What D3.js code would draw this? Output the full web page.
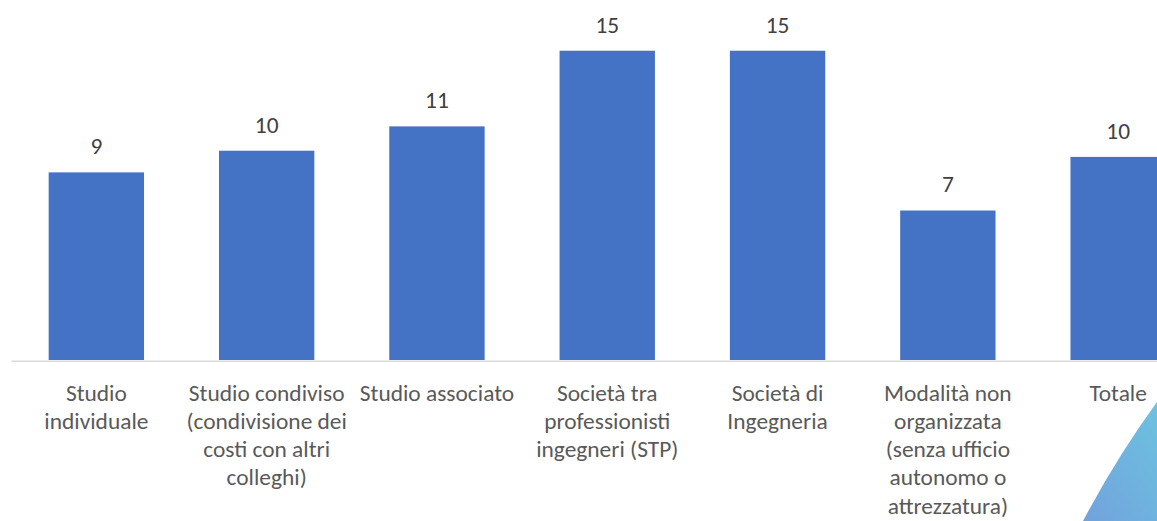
<!DOCTYPE html>
<html>
<head>
<meta charset="utf-8">
<script src="https://cdn.jsdelivr.net/npm/d3@7"></script>
<style>
  html, body { margin: 0; padding: 0; background: #ffffff; overflow: hidden; }
  svg { display: block; }
</style>
</head>
<body>
<svg id="chart" width="1157" height="521"></svg>
<script>
// ---- data ----
const categories = [
  "Studio individuale",
  "Studio condiviso (condivisione dei costi con altri colleghi)",
  "Studio associato",
  "Società tra professionisti ingegneri (STP)",
  "Società di Ingegneria",
  "Modalità non organizzata (senza ufficio autonomo o attrezzatura)",
  "Totale"
];
const categoryLines = [
  ["Studio", "individuale"],
  ["Studio condiviso", "(condivisione dei", "costi con altri", "colleghi)"],
  ["Studio associato"],
  ["Società tra", "professionisti", "ingegneri (STP)"],
  ["Società di", "Ingegneria"],
  ["Modalità non", "organizzata", "(senza ufficio", "autonomo o", "attrezzatura)"],
  ["Totale"]
];
const values = [9.1, 10.15, 11.33, 15.0, 15.0, 7.25, 9.85];
const yDomain = [0, 16];

// ---- layout ----
const W = 1157, H = 521;
const baseY = 360;
const plotTop = 30.1;
const xLeft = 11.2, xRight = 1203.3;
const fontFamily = "Carlito, Calibri, Lato, 'Open Sans', sans-serif";

const svg = d3.select("#chart");

// font sizing so text widths match a Calibri-like 23px
let fontSize = 23;
const probe = svg.append("text").attr("font-family", fontFamily).attr("font-size", 23).text("Modalità non");
const probeW = probe.node().getComputedTextLength();
probe.remove();
if (probeW > 0) fontSize = 23 * 127.7 / probeW;
fontSize = Math.max(19, Math.min(25, fontSize));
const lineH = 28.3;

const x = d3.scaleBand()
  .domain(categories)
  .range([xLeft, xRight])
  .paddingInner(0.44)
  .paddingOuter(0.22);

const y = d3.scaleLinear().domain(yDomain).range([baseY, plotTop]);

// decorative corner shape
const defs = svg.append("defs");
const grad = defs.append("linearGradient").attr("id", "cornerGrad")
  .attr("x1", "0").attr("y1", "1").attr("x2", "1").attr("y2", "0");
grad.append("stop").attr("offset", "0%").attr("stop-color", "#72a2dd");
grad.append("stop").attr("offset", "100%").attr("stop-color", "#6cc3e0");
svg.append("path")
  .attr("d", "M1160,398 Q1118,455 1083,521 L1160,521 Z")
  .attr("fill", "url(#cornerGrad)");

// bars
svg.append("g").selectAll("rect")
  .data(values)
  .join("rect")
  .attr("x", (d, i) => x(categories[i]))
  .attr("y", d => y(d))
  .attr("width", x.bandwidth())
  .attr("height", d => y(0) - y(d))
  .attr("fill", "#4472c4");

// axis
const axis = svg.append("g")
  .attr("transform", `translate(0,${baseY})`)
  .call(d3.axisBottom(x).tickSize(0).tickSizeOuter(0).tickFormat(""));
axis.select(".domain").attr("stroke", "#d9d9d9").attr("stroke-width", 1.5)
  .attr("transform", "translate(0,0.75)");

axis.selectAll(".tick text").remove();
axis.selectAll(".tick").each(function(d) {
  const i = categories.indexOf(d);
  const t = d3.select(this).append("text")
    .attr("text-anchor", "middle")
    .attr("fill", "#595959")
    .attr("font-family", fontFamily)
    .attr("font-size", fontSize);
  categoryLines[i].forEach((ln, k) => {
    t.append("tspan").attr("x", 0).attr("y", 40.5 + k * lineH).text(ln);
  });
});

// value labels
const fmt = d3.format(".0f");
svg.append("g").selectAll("text")
  .data(values)
  .join("text")
  .attr("x", (d, i) => x(categories[i]) + x.bandwidth() / 2)
  .attr("y", d => y(d) - 18.2)
  .attr("text-anchor", "middle")
  .attr("fill", "#404040")
  .attr("font-family", fontFamily)
  .attr("font-size", fontSize)
  .text(d => fmt(d));
</script>
</body>
</html>
